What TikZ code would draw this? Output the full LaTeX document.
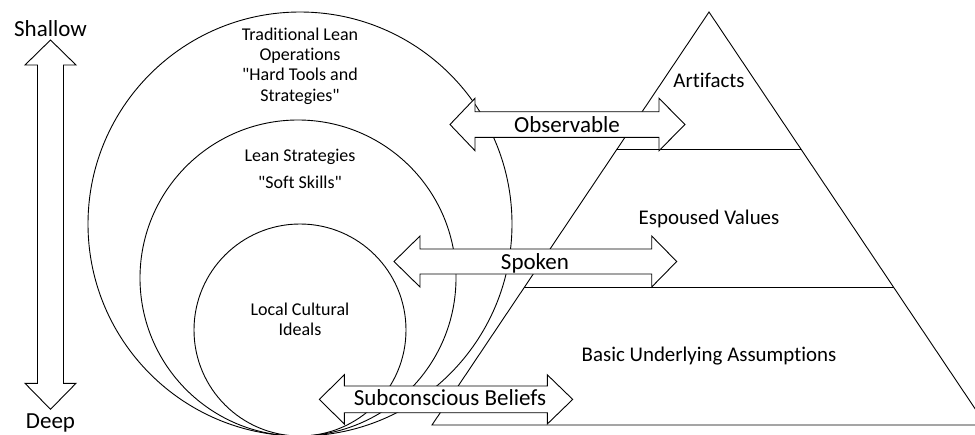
\documentclass[tikz,border=0pt]{standalone}
\usepackage{fontspec}
\setmainfont{Carlito}[Ligatures={NoCommon}]
\usetikzlibrary{calc}

\tikzset{
  ring/.style={draw, line width=0.9pt},
  blockarrow/.style={draw, fill=white, line width=0.9pt, line join=miter},
  layertext/.style={font=\fontsize{20.9}{24}\selectfont, anchor=base},
  ringtext/.style={font=\fontsize{18}{20.3}\selectfont, align=center, anchor=base},
  arrowtext/.style={font=\fontsize{23}{26}\selectfont, anchor=base},
}

\begin{document}
\begin{tikzpicture}[x=1pt, y=-1pt]
  \useasboundingbox (0,0) rectangle (975,434);
  \clip (0,0) rectangle (975,434);

  % Nested circles (base anchor = last line)
  \draw[ring] (300,224) circle[radius=212pt];
  \draw[ring] (298,278) circle[radius=158pt];
  \draw[ring] (300,330) circle[radius=106pt];

  \node[ringtext] (hardtools) at (300,101) {Traditional Lean\\Operations\\\textquotedbl Hard Tools and\\Strategies\textquotedbl};
  \node[ringtext] (softskills) at (300,188.3) {Lean Strategies\\[7pt]\textquotedbl Soft Skills\textquotedbl};
  \node[ringtext] (ideals) at (300,335.7) {Local Cultural\\Ideals};

  % Pyramid
  \coordinate (apex) at (709,12);
  \coordinate (bl) at (432,425);
  \coordinate (br) at (986,425);
  \draw[ring] (apex) -- (bl) -- (br) -- cycle;
  \draw[ring] ($(apex)!1/3!(bl)$) -- ($(apex)!1/3!(br)$);
  \draw[ring] ($(apex)!2/3!(bl)$) -- ($(apex)!2/3!(br)$);

  \node[layertext] (artifacts) at (709,87.3) {Artifacts};
  \node[layertext] (espoused) at (709,224) {Espoused Values};
  \node[layertext] (basic) at (709,361.7) {Basic Underlying Assumptions};

  % Shallow - Deep arrow
  \draw[blockarrow] (50.5,40) -- (76,65) -- (63.5,65) -- (63.5,383.3) -- (76,383.3) -- (50.5,409.3)
    -- (25,383.3) -- (37.5,383.3) -- (37.5,65) -- (25,65) -- cycle;
  \node[arrowtext] (shallow) at (50.5,36) {Shallow};
  \node[arrowtext] (deep) at (50.5,428.3) {Deep};

  % Observable
  \draw[blockarrow] (450,124.5) -- (475,98.3) -- (475,111.7) -- (659,111.7) -- (659,98.3) -- (685,124.5)
    -- (659,150.7) -- (659,137.3) -- (475,137.3) -- (475,150.7) -- cycle;
  \node[arrowtext] (observable) at (567,132.7) {Observable};

  % Spoken
  \draw[blockarrow] (394,261.5) -- (420,236) -- (420,249) -- (651.7,249) -- (651.7,236) -- (676.7,261.5)
    -- (651.7,287) -- (651.7,274) -- (420,274) -- (420,287) -- cycle;
  \node[arrowtext] (spoken) at (535,269) {Spoken};

  % Subconscious Beliefs
  \draw[blockarrow] (319.3,399.4) -- (344.3,374.8) -- (344.3,386) -- (547.3,386) -- (547.3,374.8) -- (572.7,399.4)
    -- (547.3,424) -- (547.3,412.7) -- (344.3,412.7) -- (344.3,424) -- cycle;
  \node[arrowtext] (subconscious) at (450,405) {Subconscious Beliefs};
\end{tikzpicture}
\end{document}
